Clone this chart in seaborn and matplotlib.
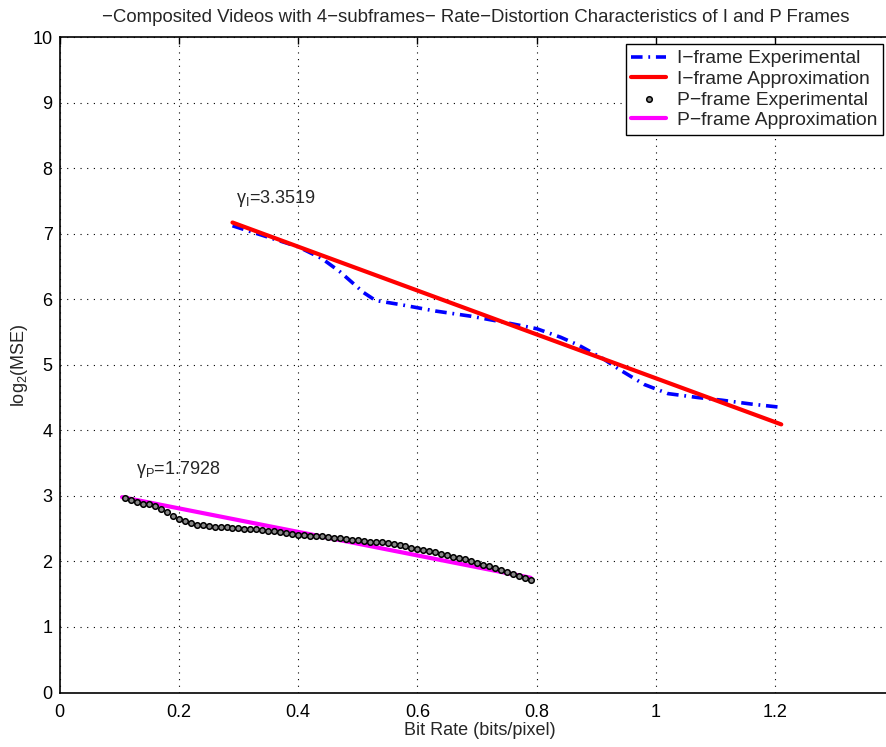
import numpy as np
import pandas as pd
import matplotlib
matplotlib.use("Agg")
import matplotlib.pyplot as plt
import seaborn as sns

# ---- data ----
i_exp_x = [0.29, 0.40, 0.44, 0.47, 0.51, 0.53, 0.57, 0.63, 0.69, 0.75, 0.80,
           0.84, 0.87, 0.91, 0.94, 0.98, 1.02, 1.07, 1.11, 1.16, 1.21]
i_exp_y = [7.12, 6.80, 6.62, 6.42, 6.10, 5.98, 5.92, 5.82, 5.74, 5.64, 5.55,
           5.42, 5.30, 5.10, 4.92, 4.70, 4.56, 4.50, 4.46, 4.40, 4.35]

i_apx_x = [0.29, 1.21]
i_apx_y = [7.17, 4.09]

p_exp_x = [0.11, 0.12, 0.13, 0.14, 0.15, 0.16, 0.17, 0.18, 0.19, 0.20,
           0.21, 0.22, 0.23, 0.24, 0.25, 0.26, 0.27, 0.28, 0.29, 0.30,
           0.31, 0.32, 0.33, 0.34, 0.35, 0.36, 0.37, 0.38, 0.39, 0.40,
           0.41, 0.42, 0.43, 0.44, 0.45, 0.46, 0.47, 0.48, 0.49, 0.50,
           0.51, 0.52, 0.53, 0.54, 0.55, 0.56, 0.57, 0.58, 0.59, 0.60,
           0.61, 0.62, 0.63, 0.64, 0.65, 0.66, 0.67, 0.68, 0.69, 0.70,
           0.71, 0.72, 0.73, 0.74, 0.75, 0.76, 0.77, 0.78, 0.79]
p_exp_y = [2.96, 2.93, 2.90, 2.88, 2.87, 2.84, 2.80, 2.76, 2.70, 2.65,
           2.61, 2.58, 2.56, 2.55, 2.54, 2.53, 2.52, 2.52, 2.51, 2.51,
           2.50, 2.50, 2.49, 2.48, 2.47, 2.46, 2.45, 2.44, 2.42, 2.41,
           2.40, 2.39, 2.38, 2.38, 2.37, 2.36, 2.36, 2.34, 2.33, 2.32,
           2.31, 2.30, 2.30, 2.29, 2.28, 2.27, 2.25, 2.23, 2.21, 2.19,
           2.17, 2.16, 2.14, 2.12, 2.10, 2.07, 2.05, 2.03, 2.01, 1.98,
           1.95, 1.93, 1.90, 1.87, 1.84, 1.81, 1.78, 1.74, 1.71]

p_apx_x = [0.105, 0.79]
p_apx_y = [2.98, 1.75]

gamma_i = "3.3519"
gamma_p = "1.7928"

x_ticks = [0, 0.2, 0.4, 0.6, 0.8, 1.0, 1.2]
x_tick_labels = ["0", "0.2", "0.4", "0.6", "0.8", "1", "1.2"]
y_ticks = list(range(0, 11))

title = ("\u2212Composited Videos with 4\u2212subframes\u2212 "
         "Rate\u2212Distortion Characteristics of I and P Frames")

# ---- styling ----
sns.set_style("white")
plt.rcParams["font.family"] = ["Liberation Sans", "DejaVu Sans"]
plt.rcParams["mathtext.fontset"] = "custom"
plt.rcParams["mathtext.rm"] = "Liberation Sans"
plt.rcParams["mathtext.it"] = "Liberation Sans"
FS = 13

W, H = 886, 747
fig = plt.figure(figsize=(W / 100, H / 100), dpi=100)
left_px, top_px, bottom_px = 59.5, 37.0, 692.5
px_per_unit = 596.5
right_px = 900.0  # extends past figure edge (right spine cropped as in reference)
ax = fig.add_axes([left_px / W, 1 - bottom_px / H,
                   (right_px - left_px) / W, (bottom_px - top_px) / H])

i_exp = pd.DataFrame({"x": i_exp_x, "y": i_exp_y})
i_apx = pd.DataFrame({"x": i_apx_x, "y": i_apx_y})
p_exp = pd.DataFrame({"x": p_exp_x, "y": p_exp_y})
p_apx = pd.DataFrame({"x": p_apx_x, "y": p_apx_y})

sns.lineplot(data=i_exp, x="x", y="y", ax=ax, color="#0000ff", lw=2.6,
             dashes=False, sort=False, label="I\u2212frame Experimental",
             zorder=3)
ax.lines[-1].set_dashes((3.2, 1.6, 0.5, 1.6))
sns.lineplot(data=i_apx, x="x", y="y", ax=ax, color="#ff0000", lw=3.0,
             sort=False, label="I\u2212frame Approximation", zorder=4)
sns.scatterplot(data=p_exp, x="x", y="y", ax=ax, marker="o", s=16,
                facecolor="#888888", edgecolor="black", linewidth=1.1,
                label="P\u2212frame Experimental", zorder=4)
sns.lineplot(data=p_apx, x="x", y="y", ax=ax, color="#ff00ff", lw=3.0,
             sort=False, label="P\u2212frame Approximation", zorder=3)

ax.set_xlim(0, (right_px - left_px) / px_per_unit)
ax.set_ylim(0, 10)
ax.set_xticks(x_ticks)
ax.set_xticklabels(x_tick_labels)
ax.set_yticks(y_ticks)
ax.tick_params(direction="in", length=5, width=1, labelsize=FS,
               colors="black", top=True, right=False)
ax.tick_params(axis="x", pad=8)
ax.tick_params(axis="y", pad=5)
ax.grid(True, color="black", linestyle=(0, (1, 5)), linewidth=0.8)
for s in ax.spines.values():
    s.set_color("black")
    s.set_linewidth(1.2)

ax.set_xlabel("Bit Rate (bits/pixel)", fontsize=FS, labelpad=1)
ax.set_ylabel(r"log$_2$(MSE)", fontsize=FS, labelpad=2)
fig.text(476 / W, 1 - 21.7 / H, title, ha="center", va="baseline",
         fontsize=13.4)

ax.text(0.296, 7.47, r"$\gamma_I$=" + gamma_i, fontsize=FS, va="baseline")
ax.text(0.128, 3.34, r"$\gamma_P$=" + gamma_p, fontsize=FS, va="baseline")

handles, labels = ax.get_legend_handles_labels()
leg = ax.legend(handles, labels, loc="upper right",
                bbox_to_anchor=(883 / W, 1 - 44 / H),
                bbox_transform=fig.transFigure, fontsize=13.9,
                frameon=True, fancybox=False, edgecolor="black",
                framealpha=1, borderpad=0.3, labelspacing=0.16,
                handlelength=1.8, handletextpad=0.55, borderaxespad=0)
leg.get_frame().set_linewidth(1.0)

fig.savefig("out.png", dpi=100)
